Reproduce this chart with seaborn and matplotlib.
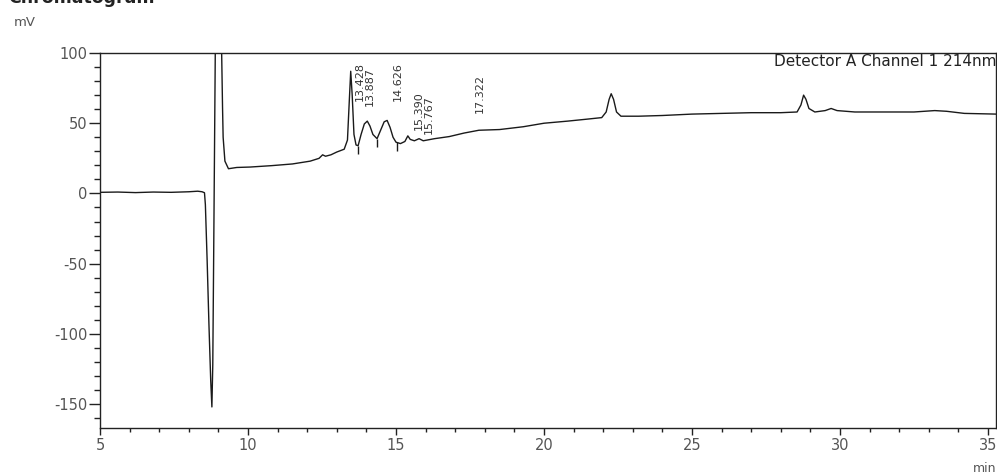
import numpy as np
import pandas as pd
import matplotlib
matplotlib.use("Agg")
import matplotlib.pyplot as plt
import seaborn as sns
from matplotlib.ticker import MultipleLocator

# ---- data ----
time_min = [5.00, 5.60, 6.20, 6.80, 7.40, 8.00, 8.30, 8.45, 8.53, 8.56, 8.62, 8.68,
            8.74, 8.78, 8.81, 8.84, 8.87, 8.90, 8.95, 9.08, 9.11, 9.14, 9.16, 9.22,
            9.34, 9.62, 10.07, 10.80, 11.50, 12.10, 12.40, 12.52, 12.62, 12.80, 13.00,
            13.25, 13.36, 13.42, 13.47, 13.52, 13.58, 13.65, 13.72, 13.82, 13.93, 14.03,
            14.12, 14.22, 14.36, 14.48, 14.60, 14.70, 14.80, 14.90, 15.00, 15.15, 15.30,
            15.40, 15.48, 15.62, 15.78, 15.92, 16.30, 16.80, 17.30, 17.80, 18.50, 19.30,
            20.00, 20.80, 21.50, 21.95, 22.10, 22.20, 22.27, 22.35, 22.45, 22.60, 23.20,
            24.00, 25.00, 26.00, 27.00, 28.00, 28.55, 28.68, 28.77, 28.85, 28.95, 29.15,
            29.50, 29.70, 29.90, 30.50, 31.50, 32.50, 33.20, 33.60, 34.20, 35.27]
signal_mv = [0.8, 1.0, 0.6, 1.0, 0.8, 1.2, 1.6, 1.2, 0.5, -8.0, -48.0, -93.0,
             -133.0, -152.0, -122.0, -45.0, 35.0, 115.0, 140.0, 140.0, 100.0, 61.0, 40.0, 23.0,
             17.6, 18.5, 18.8, 19.8, 21.0, 23.0, 25.0, 27.5, 26.5, 27.5, 29.5,
             31.5, 38.0, 65.0, 87.0, 70.0, 42.0, 34.5, 34.0, 42.0, 49.5, 51.5,
             48.0, 42.0, 39.0, 45.0, 51.0, 52.0, 47.0, 40.0, 36.5, 35.5, 37.0,
             41.0, 38.5, 37.5, 39.0, 37.5, 39.0, 40.5, 43.0, 45.0, 45.5, 47.5,
             50.0, 51.5, 53.0, 54.0, 58.0, 67.0, 71.0, 67.0, 58.0, 55.0, 55.0,
             55.5, 56.5, 57.0, 57.5, 57.5, 58.0, 63.0, 70.0, 67.0, 60.5, 58.0,
             59.0, 60.5, 59.0, 58.0, 58.0, 58.0, 59.0, 58.5, 57.0, 56.5]

peak_labels = ["13.428", "13.887", "14.626", "15.390", "15.767", "17.322"]
label_time = [13.78, 14.10, 15.05, 15.76, 16.10, 17.84]
label_mv = [66, 62, 66, 45, 42, 57]

boundary_time = [13.72, 14.36, 15.03]
boundary_top = [34.0, 39.0, 36.5]

x_ticks = [5, 10, 15, 20, 25, 30, 35]
y_ticks = [-150, -100, -50, 0, 50, 100]

# ---- styling ----
sns.set_style("ticks")
plt.rcParams['font.family'] = ['DejaVu Sans']
plt.rcParams['axes.unicode_minus'] = False

W, H = 997, 474
fig = plt.figure(figsize=(W / 100, H / 100), dpi=100)
ax = fig.add_axes([100 / W, (H - 428) / H, 896 / W, 375 / H])

df = pd.DataFrame({"t": time_min, "mV": signal_mv})
sns.lineplot(data=df, x="t", y="mV", ax=ax, color="#1a1a1a", lw=1.0,
             sort=False, estimator=None)

ax.vlines(boundary_time, [b - 6 for b in boundary_top], boundary_top,
          color="#1a1a1a", lw=1.0)

for lbl, t, m in zip(peak_labels, label_time, label_mv):
    ax.text(t, m, lbl, rotation=90, ha="center", va="bottom",
            fontsize=8, color="#333333")

ax.set_xlim(5, 35.27)
ax.set_ylim(-167, 100)
ax.set_xticks(x_ticks)
ax.set_yticks(y_ticks)
ax.xaxis.set_minor_locator(MultipleLocator(1))
ax.yaxis.set_minor_locator(MultipleLocator(10))
ax.set_xlabel("")
ax.set_ylabel("")

for s in ax.spines.values():
    s.set_visible(True)
    s.set_color("#222222")
    s.set_linewidth(1.0)

ax.tick_params(axis="y", which="major", direction="out", length=8, width=1.0,
               pad=1, labelsize=10.5, labelcolor="#555555", color="#222222")
ax.tick_params(axis="y", which="minor", direction="out", length=4, width=1.0,
               color="#222222")
ax.tick_params(axis="x", which="major", direction="out", length=5, width=1.0,
               pad=2, labelsize=10.5, labelcolor="#555555", color="#222222")
ax.tick_params(axis="x", which="minor", direction="out", length=3, width=1.0,
               color="#222222")

ax.text(1.0, (428 - 62) / 375, "Detector A Channel 1 214nm", transform=ax.transAxes,
        ha="right", va="center", fontsize=11, color="#222222")

fig.text(8 / W, 1 - 3 / H, "Chromatogram", fontsize=12.5, fontweight="bold",
         va="baseline", ha="left", color="#222222")
fig.text(25 / W, 1 - 22 / H, "mV", ha="center", va="center", fontsize=9.5,
         color="#555555")
fig.text(985 / W, 1 - 468 / H, "min", ha="center", va="center", fontsize=9,
         color="#555555")

fig.savefig("out.png", dpi=100)
